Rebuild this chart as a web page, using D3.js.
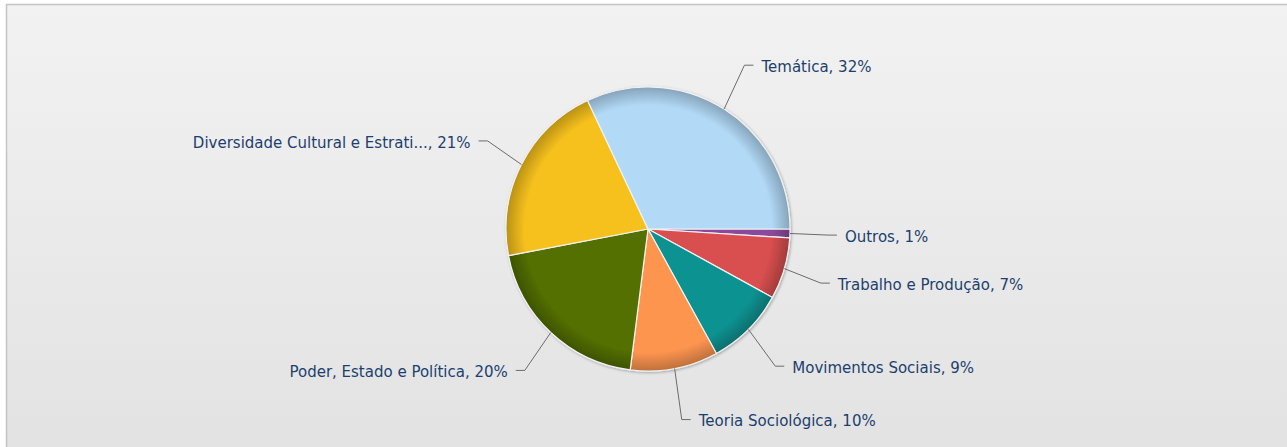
<!DOCTYPE html>
<html lang="pt">
<head>
<meta charset="UTF-8">
<title>Pie</title>
<script src="https://d3js.org/d3.v7.min.js"></script>
<style>
    body{ margin:0; background:#fff; }
    text.lbl{ font-family: "DejaVu Sans", Verdana, sans-serif; font-size:15px; fill:#1c3f6e; }
    path.conn{ fill:none; stroke:#6b6b6b; stroke-width:1px; }
</style>
</head>
<body>
<svg width="1287" height="447"></svg>
<script>
    // data (clockwise from 3 o'clock)
    let labels = ["Outros", "Trabalho e Produção", "Movimentos Sociais", "Teoria Sociológica",
        "Poder, Estado e Política", "Diversidade Cultural e Estrati...", "Temática"];
    let values = [1, 7, 9, 10, 20, 21, 32];
    let colors = ["#8c4a9c", "#d94f4f", "#0c9292", "#fe9550", "#536f00", "#f6c11d", "#b2daf7"];

    let svg = d3.select('svg');
    let defs = svg.append('defs');

    let bg = defs.append('linearGradient').attr('id', 'bg')
        .attr('x1', 0).attr('y1', 0).attr('x2', 0).attr('y2', 1);
    bg.append('stop').attr('offset', 0).attr('stop-color', '#f2f2f2');
    bg.append('stop').attr('offset', 1).attr('stop-color', '#e2e2e2');

    svg.append('rect').attr('x', 6.5).attr('y', 4.5).attr('width', 1300).attr('height', 460)
        .attr('fill', 'url(#bg)').attr('stroke', '#c4c4c4').attr('stroke-width', 1.5);

    let cx = 648, cy = 229, r = 142;
    let data = labels.map((l, i) => ({label: l, value: values[i], color: colors[i]}));

    colors.forEach(function (c, i) {
        let g = defs.append('radialGradient').attr('id', 'g' + i)
            .attr('gradientUnits', 'userSpaceOnUse')
            .attr('cx', 0).attr('cy', 0).attr('r', r);
        g.append('stop').attr('offset', 0).attr('stop-color', c);
        g.append('stop').attr('offset', 0.87).attr('stop-color', c);
        g.append('stop').attr('offset', 1).attr('stop-color', d3.color(c).darker(0.8));
    });

    let shadow = defs.append('filter').attr('id', 'sh')
        .attr('x', -0.2).attr('y', -0.2).attr('width', 1.4).attr('height', 1.4);
    shadow.append('feGaussianBlur').attr('in', 'SourceAlpha').attr('stdDeviation', 1.5);
    shadow.append('feOffset').attr('dx', 1).attr('dy', 1).attr('result', 'b');
    shadow.append('feComponentTransfer').append('feFuncA').attr('type', 'linear').attr('slope', 0.3);
    let mg = shadow.append('feMerge');
    mg.append('feMergeNode');
    mg.append('feMergeNode').attr('in', 'SourceGraphic');

    // d3 angles: 0 at 12 o'clock, start at 3 o'clock
    let pie = d3.pie().value(d => d.value).sort(null)
        .startAngle(Math.PI / 2).endAngle(Math.PI / 2 + 2 * Math.PI);
    let arc = d3.arc().innerRadius(0).outerRadius(r);
    let arcs = pie(data);

    let fig = svg.append('g').attr('transform', 'translate(' + cx + ',' + cy + ')');
    fig.append('g').attr('filter', 'url(#sh)')
        .selectAll('path').data(arcs).join('path')
        .attr('d', arc)
        .attr('fill', (d, i) => 'url(#g' + i + ')')
        .attr('stroke', '#f2f2f2').attr('stroke-width', 1.2).attr('stroke-linejoin', 'round');

    // label break points on an ellipse around the pie
    let Rx = 180, Ry = 194, hseg = 9, gap = 8;
    arcs.forEach(function (d) {
        let a = (d.startAngle + d.endAngle) / 2 - Math.PI / 2;
        let ex = Math.cos(a) * r, ey = Math.sin(a) * r;
        let bx = Math.cos(a) * Rx, by = Math.sin(a) * Ry;
        let right = Math.cos(a) >= 0;
        let s = right ? 1 : -1;
        let hx = bx + s * hseg;
        fig.append('path').attr('class', 'conn')
            .attr('d', 'M' + ex + ',' + ey + 'L' + bx + ',' + by + 'L' + hx + ',' + by);
        fig.append('text').attr('class', 'lbl')
            .attr('x', hx + s * gap).attr('y', by)
            .attr('dy', '0.45em')
            .attr('text-anchor', right ? 'start' : 'end')
            .text(d.data.label + ', ' + d.data.value + '%');
    });
</script>
</body>
</html>
